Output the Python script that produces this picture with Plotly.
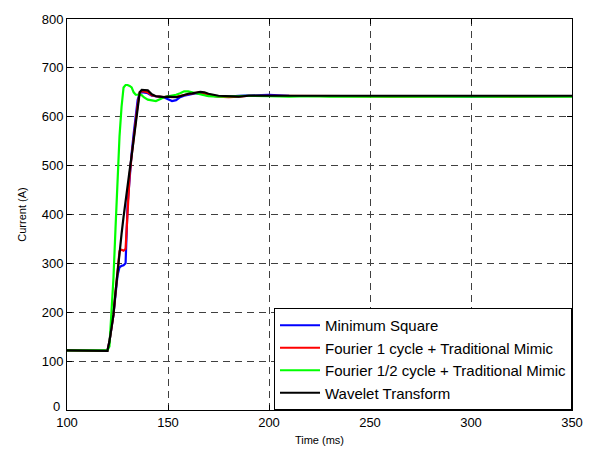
import plotly.graph_objects as go

# Time axis (ms)
time_ms = [100, 120, 121, 122, 123, 124, 125, 126, 127, 128, 129, 130, 131, 132, 133, 134,
           135, 136, 137, 138, 140, 142, 144, 146, 148, 150, 152, 154, 156, 158, 160, 162,
           164, 166, 168, 170, 175, 180, 185, 190, 195, 200, 210, 220, 230, 240, 260, 280,
           300, 320, 340, 350]

minimum_square = [122, 121, 140, 165, 195, 235, 275, 292, 295, 296, 300, 420, 480, 525, 565, 600,
                  635, 648, 650, 650, 648, 643, 642, 642, 640, 636, 632, 634, 640, 643, 645, 647,
                  648, 647, 645, 643, 642, 641, 643, 644, 645, 645, 643, 643, 642, 642, 642, 642,
                  641, 642, 642, 642]

fourier_1 = [122, 121, 140, 165, 195, 240, 290, 325, 328, 326, 330, 420, 480, 520, 560, 590,
             625, 650, 652, 652, 650, 644, 642, 641, 640, 641, 640, 641, 643, 645, 647, 648,
             649, 650, 648, 644, 641, 640, 641, 643, 643, 643, 642, 642, 643, 642, 641, 642,
             642, 641, 642, 642]

fourier_half = [122, 122, 130, 190, 270, 370, 470, 560, 620, 660, 665, 665, 663, 660, 650, 645,
                645, 646, 644, 640, 635, 633, 632, 636, 640, 642, 643, 645, 648, 652, 652, 650,
                648, 645, 643, 642, 641, 641, 642, 643, 642, 642, 641, 642, 641, 641, 642, 641,
                641, 642, 641, 641]

wavelet = [122, 121, 140, 170, 195, 240, 285, 320, 360, 395, 430, 465, 490, 520, 555, 585,
           620, 650, 655, 655, 654, 646, 642, 641, 640, 641, 640, 640, 642, 645, 647, 648,
           650, 651, 650, 647, 643, 642, 641, 643, 643, 644, 643, 643, 643, 643, 643, 643,
           643, 643, 643, 643]

x_ticks = [100, 150, 200, 250, 300, 350]
y_ticks = [100, 200, 300, 400, 500, 600, 700, 800]

series = [
    ("Minimum Square", minimum_square, "#0000ff"),
    ("Fourier 1 cycle + Traditional Mimic", fourier_1, "#ff0000"),
    ("Fourier 1/2 cycle + Traditional Mimic", fourier_half, "#00ff00"),
    ("Wavelet Transform", wavelet, "#000000"),
]

FONT = "Arial, Liberation Sans, sans-serif"

fig = go.Figure()
for name, vals, color in series:
    fig.add_trace(go.Scatter(x=time_ms, y=vals, mode="lines", name=name,
                             line=dict(color=color, width=2.2)))

axis_common = dict(
    showline=True, linecolor="black", linewidth=1, mirror="ticks",
    ticks="inside", ticklen=5, tickcolor="black",
    showgrid=True, gridcolor="#404040", gridwidth=1, griddash="7px,5px",
    zeroline=False,
    tickfont=dict(family=FONT, size=13, color="black"),
)

fig.update_layout(
    width=595, height=456,
    margin=dict(l=67, r=21, t=13, b=44),
    paper_bgcolor="white", plot_bgcolor="white",
    font=dict(family=FONT, color="black"),
    xaxis=dict(range=[100, 350], tickvals=x_ticks,
               title=dict(text="Time (ms)", font=dict(size=11), standoff=7), **axis_common),
    yaxis=dict(range=[0, 800], tickvals=y_ticks,
               title=dict(text="Current (A)", font=dict(size=11), standoff=12), **axis_common),
    legend=dict(x=1, y=0, xanchor="right", yanchor="bottom",
                bgcolor="white", bordercolor="black", borderwidth=1,
                font=dict(size=15, family=FONT),
                tracegroupgap=0, itemwidth=40),
    showlegend=True,
)

# MATLAB places the "0" label slightly above the corner
fig.add_annotation(x=0, xref="paper", y=0, yref="y", text="0", showarrow=False,
                   xanchor="right", yanchor="middle", xshift=-5, yshift=4,
                   font=dict(family=FONT, size=13, color="black"))

fig.write_html("out.html")
